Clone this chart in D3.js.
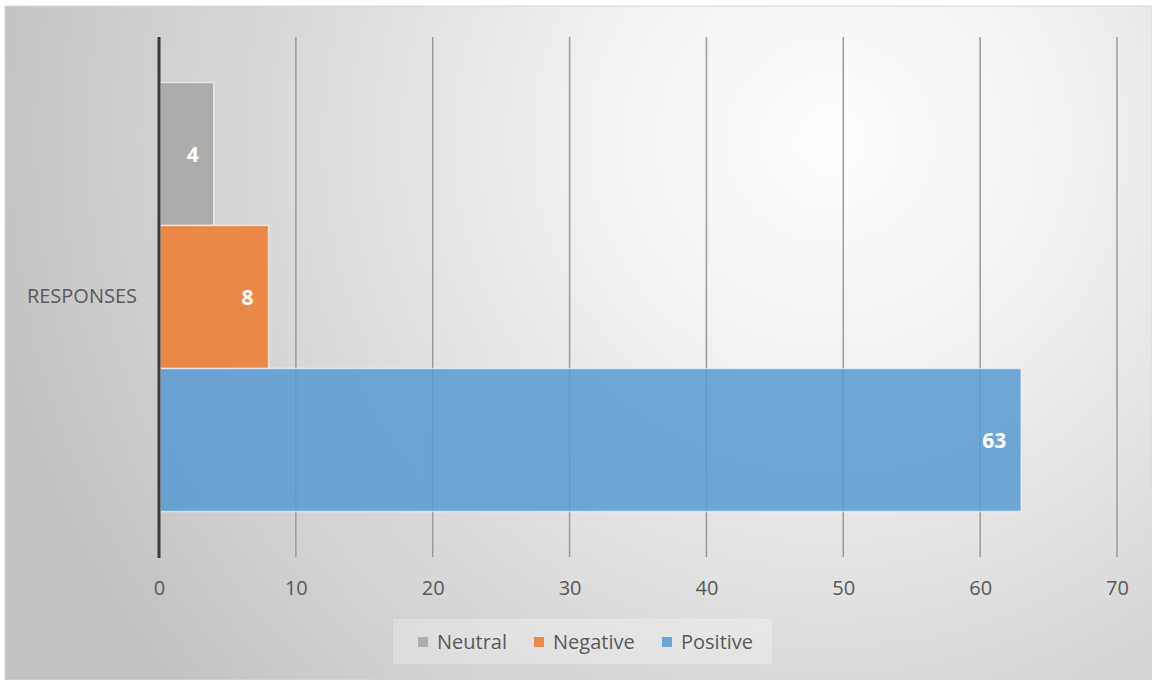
<!DOCTYPE html>
<html>
<head>
<meta charset="utf-8">
<script src="https://cdn.jsdelivr.net/npm/d3@7"></script>
<style>
html,body{margin:0;padding:0;background:#fff;}
svg{display:block;}
text{font-family:"Open Sans","Noto Sans",sans-serif;}
</style>
</head>
<body>
<svg id="chart" width="1152" height="680"></svg>
<script>
const categories = ["RESPONSES"];
const seriesNames = ["Neutral", "Negative", "Positive"];
const seriesValues = [4, 8, 63];
const seriesColors = ["#a5a5a5", "#ed7d31", "#5b9bd5"];
const xTicks = [0, 10, 20, 30, 40, 50, 60, 70];

const svg = d3.select("#chart");
const W = 1152, H = 680;

// background gradient
const defs = svg.append("defs");
const rg = defs.append("radialGradient")
  .attr("id", "bg").attr("gradientUnits", "userSpaceOnUse")
  .attr("cx", 830).attr("cy", 140).attr("r", 860);
rg.append("stop").attr("offset", "0").attr("stop-color", "#ffffff");
rg.append("stop").attr("offset", "0.3").attr("stop-color", "#f0f0f0");
rg.append("stop").attr("offset", "1").attr("stop-color", "#c2c2c2");

svg.append("rect").attr("x", 5).attr("y", 6).attr("width", W - 5).attr("height", H - 6)
  .attr("fill", "url(#bg)").attr("stroke", "#d9d9d9").attr("stroke-width", 1);

const x = d3.scaleLinear().domain([0, 70]).range([159, 1117]);
const yCat = d3.scaleBand().domain(categories).range([37, 557]);
const y = d3.scaleBand().domain(seriesNames).range([37, 557]).paddingInner(0).paddingOuter(0.318);

// gridlines
const grid = svg.append("g");
grid.selectAll("line").data(xTicks.filter(d => d !== 0)).join("line")
  .attr("x1", d => x(d)).attr("x2", d => x(d))
  .attr("y1", 37).attr("y2", 557)
  .attr("stroke", "#9a9a9a").attr("stroke-width", 1.5);

// bars
const bars = svg.append("g");
bars.selectAll("rect").data(seriesNames).join("rect")
  .attr("x", x(0) + 1)
  .attr("y", d => y(d))
  .attr("width", (d, i) => x(seriesValues[i]) - x(0) - 1)
  .attr("height", y.bandwidth())
  .attr("fill", (d, i) => seriesColors[i])
  .attr("fill-opacity", 0.87)
  .attr("stroke", "#ffffff").attr("stroke-opacity", 0.6).attr("stroke-width", 1.5);

// data labels
svg.append("g").selectAll("text").data(seriesNames).join("text")
  .attr("x", (d, i) => x(seriesValues[i]) - 15)
  .attr("y", d => y(d) + y.bandwidth() / 2)
  .attr("dy", "0.36em")
  .attr("text-anchor", "end")
  .attr("fill", "#ffffff")
  .attr("font-weight", "bold")
  .attr("font-size", 21)
  .text((d, i) => seriesValues[i]);

// x axis labels
const xAxis = d3.axisBottom(x).tickValues(xTicks).tickSize(0).tickPadding(0);
const gx = svg.append("g").attr("transform", "translate(0,581)").call(xAxis);
gx.select(".domain").remove();
gx.selectAll("text").attr("font-size", 20).attr("fill", "#595959")
  .attr("font-family", "'Open Sans','Noto Sans',sans-serif");

// y axis (category)
const yAxis = d3.axisLeft(yCat).tickSize(0).tickPadding(22);
const gy = svg.append("g").attr("transform", `translate(${x(0)},0)`).call(yAxis);
gy.select(".domain").remove();
gy.selectAll("text").attr("font-size", 20).attr("fill", "#595959")
  .attr("font-family", "'Open Sans','Noto Sans',sans-serif");

// vertical axis line
svg.append("line").attr("x1", x(0)).attr("x2", x(0)).attr("y1", 37).attr("y2", 558)
  .attr("stroke", "#3a3a3a").attr("stroke-width", 3);

// legend
const legend = svg.append("g");
legend.append("rect").attr("x", 393).attr("y", 619).attr("width", 379).attr("height", 45)
  .attr("fill", "#ffffff").attr("fill-opacity", 0.28);
const legendX = [418, 534, 662];
const items = legend.selectAll("g.item").data(seriesNames).join("g").attr("class", "item")
  .attr("transform", (d, i) => `translate(${legendX[i]},0)`);
items.append("rect").attr("x", 0).attr("y", 637).attr("width", 10).attr("height", 10)
  .attr("fill", (d, i) => seriesColors[i]).attr("fill-opacity", 0.87);
items.append("text").attr("x", 19).attr("y", 642).attr("dy", "0.35em")
  .attr("font-size", 20).attr("fill", "#595959").text(d => d);
</script>
</body>
</html>
